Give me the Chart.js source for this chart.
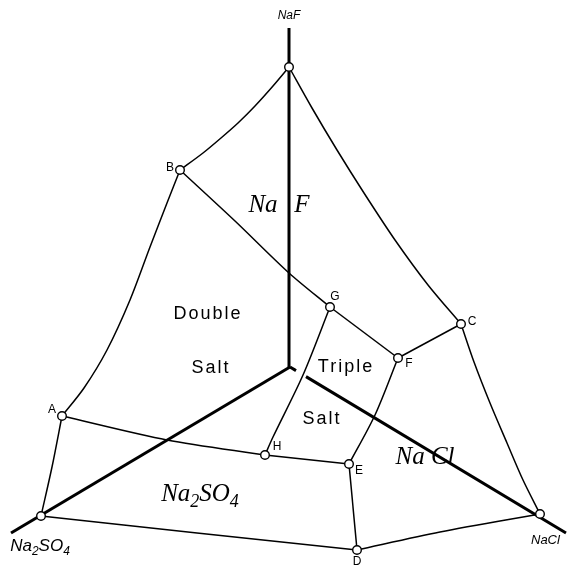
<!DOCTYPE html>
<html>
<head>
<meta charset="utf-8">
<script src="https://cdn.jsdelivr.net/npm/chart.js@4.4.1/dist/chart.umd.min.js"></script>
<style>
html, body { margin: 0; padding: 0; background: #fff; }
#wrap { width: 567px; height: 567px; }
</style>
</head>
<body>
<div id="wrap"><canvas id="myChart"></canvas></div>
<script>

// diagram units: x to the right, y downward
var pointNames = ["NaF", "B", "A", "Na2SO4", "D", "NaCl", "C", "G", "F", "H", "E"];
var pointX = [289, 180, 62, 41, 357, 540, 461, 330, 398, 265, 349];
var pointY = [67, 170, 416, 516, 550, 514, 324, 307, 358, 455, 464];

// boundary curves (with a few points picked along each curve)
var curveNaF_B = [[289, 67], [273, 86], [255, 106], [238, 123], [221, 138], [203, 153], [180, 170]];
var curveB_A = [[180, 170], [167, 203], [150, 247], [130, 300], [107, 350], [84, 388], [62, 416]];
var curveA_Na2SO4 = [[62, 416], [52, 467], [41, 516]];
var curveNa2SO4_D = [[41, 516], [197, 533], [357, 550]];
var curveD_NaCl = [[357, 550], [440, 532], [540, 514]];
var curveNaCl_C = [[540, 514], [523, 480], [507, 443], [490, 403], [474, 362], [461, 324]];
var curveC_NaF = [[461, 324], [428, 285], [395, 240], [364, 193], [337, 150], [312, 108], [289, 67]];
var curveB_G = [[180, 170], [235, 221], [289, 273], [330, 307]];
var curveG_F = [[330, 307], [398, 358]];
var curveF_C = [[398, 358], [461, 324]];
var curveG_H = [[330, 307], [303, 375], [273, 437], [265, 455]];
var curveF_E = [[398, 358], [375, 415], [349, 464]];
var curveA_H = [[62, 416], [167, 440], [265, 455]];
var curveH_E = [[265, 455], [349, 464]];
var curveE_D = [[349, 464], [357, 550]];

// the three composition axes (heavy lines)
var axisNaF = [[289, 28], [289, 367]];
var axisNa2SO4 = [[11, 533], [290, 367]];
var axisNaCl = [[290, 367], [296, 370.6], [300, null], [306, 376.6], [566, 533]];

// text
var pointLabels = ["B", "G", "C", "F", "A", "H", "E", "D"];
var pointLabelX = [170, 335, 472, 409, 52, 277, 359, 357];
var pointLabelY = [168, 297, 322, 364, 410, 447, 471, 562];

var regionLabels = ["Double", "Salt", "Triple", "Salt"];
var regionLabelX = [208, 211, 346, 322];
var regionLabelY = [314, 368, 367, 419];

function toXY(list) {
	return list.map(function (p) { return { x: p[0], y: p[1] }; });
}

function thin(list) {
	return {
		data: toXY(list),
		showLine: true,
		borderColor: "#000",
		borderWidth: 1.5,
		pointRadius: 0,
		tension: 0.3,
		order: 2
	};
}

function thick(list) {
	return {
		data: toXY(list),
		showLine: true,
		borderColor: "#000",
		borderWidth: 3,
		pointRadius: 0,
		tension: 0,
		spanGaps: false,
		order: 3
	};
}

// draw "Na_2SO_4" style text with subscripts, centred on x
function drawRich(ctx, text, x, y, size, family, style) {
	var parts = [];
	var re = /_(\d)|([^_]+)/g, m;
	while ((m = re.exec(text)) !== null) {
		if (m[1]) parts.push({ t: m[1], sub: true });
		else parts.push({ t: m[2], sub: false });
	}
	var fontMain = style + " " + size + "px " + family;
	var fontSub = style + " " + Math.round(size * 0.7) + "px " + family;
	var w = 0;
	parts.forEach(function (p) {
		ctx.font = p.sub ? fontSub : fontMain;
		p.w = ctx.measureText(p.t).width;
		w += p.w;
	});
	var cx = x - w / 2;
	ctx.textAlign = "left";
	ctx.textBaseline = "alphabetic";
	parts.forEach(function (p) {
		ctx.font = p.sub ? fontSub : fontMain;
		ctx.fillText(p.t, cx, p.sub ? y + size * 0.22 : y);
		cx += p.w;
	});
}

var labelPlugin = {
	id: "labels",
	afterDatasetsDraw: function (chart) {
		var ctx = chart.ctx;
		var sx = chart.scales.x, sy = chart.scales.y;
		function px(v) { return sx.getPixelForValue(v); }
		function py(v) { return sy.getPixelForValue(v); }
		ctx.save();
		ctx.fillStyle = "#000";
		ctx.textAlign = "center";
		ctx.textBaseline = "middle";

		ctx.font = "12px 'Liberation Sans'";
		pointLabels.forEach(function (t, i) {
			ctx.fillText(t, px(pointLabelX[i]), py(pointLabelY[i]));
		});

		ctx.font = "18px 'Liberation Sans'";
		ctx.letterSpacing = "2px";
		regionLabels.forEach(function (t, i) {
			ctx.fillText(t, px(regionLabelX[i]), py(regionLabelY[i]));
		});
		ctx.letterSpacing = "0px";

		// corner names
		drawRich(ctx, "NaF", px(289), py(19), 12, "'Liberation Sans'", "italic");
		drawRich(ctx, "Na_2SO_4", px(40), py(551), 17, "'Liberation Sans'", "italic");
		ctx.font = "italic 13px 'Liberation Sans'";
		ctx.textAlign = "left";
		ctx.textBaseline = "alphabetic";
		ctx.fillText("NaCl", px(531), py(544));

		// primary phase fields
		drawRich(ctx, "Na", px(263), py(212), 25, "'Liberation Serif'", "italic");
		drawRich(ctx, "F", px(302), py(212), 25, "'Liberation Serif'", "italic");
		drawRich(ctx, "Na Cl", px(425), py(464), 25, "'Liberation Serif'", "italic");
		drawRich(ctx, "Na_2SO_4", px(200), py(501), 25, "'Liberation Serif'", "italic");
		ctx.restore();
	}
};

var datasets = [
	curveNaF_B, curveB_A, curveA_Na2SO4, curveNa2SO4_D, curveD_NaCl,
	curveNaCl_C, curveC_NaF, curveB_G, curveG_F, curveF_C,
	curveG_H, curveF_E, curveA_H, curveH_E, curveE_D
].map(thin);

[axisNaF, axisNa2SO4, axisNaCl].forEach(function (a) { datasets.push(thick(a)); });

// invariant points, drawn on top
datasets.push({
	data: pointX.map(function (x, i) { return { x: x, y: pointY[i] }; }),
	showLine: false,
	pointRadius: 4.3,
	pointBackgroundColor: "#fff",
	pointBorderColor: "#000",
	pointBorderWidth: 1.4,
	order: 0
});

var diagram = new Chart("myChart", {
	type: "scatter",
	data: { datasets: datasets },
	options: {
		responsive: true,
		maintainAspectRatio: false,
		animation: false,
		layout: { padding: 0, autoPadding: false },
		plugins: {
			legend: { display: false },
			tooltip: { enabled: false }
		},
		scales: {
			x: { type: "linear", min: 0, max: 567, display: false },
			y: { type: "linear", min: 0, max: 567, reverse: true, display: false }
		}
	},
	plugins: [labelPlugin]
});
</script>
</body>
</html>
